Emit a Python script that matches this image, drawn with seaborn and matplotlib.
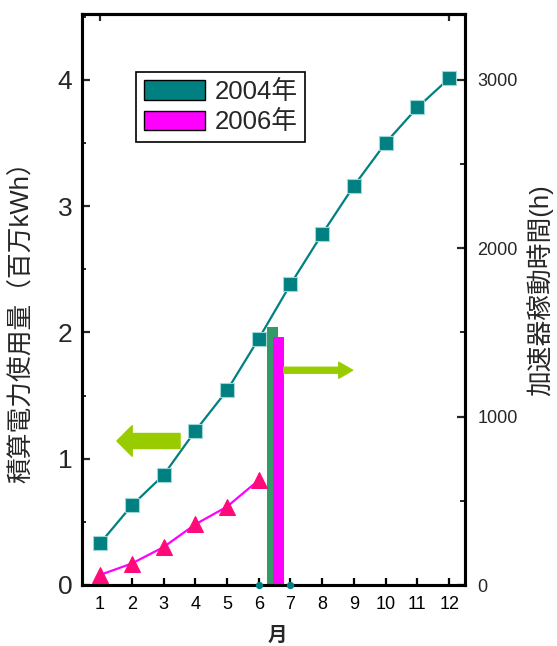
import matplotlib
matplotlib.use('Agg')
import matplotlib.pyplot as plt
import seaborn as sns
import pandas as pd
from matplotlib.patches import Patch
from matplotlib.ticker import MultipleLocator

# ---- data ----
months = [1, 2, 3, 4, 5, 6, 7, 8, 9, 10, 11, 12]
kwh_2004 = [0.33, 0.63, 0.87, 1.22, 1.54, 1.95, 2.38, 2.78, 3.16, 3.50, 3.78, 4.01]
months_2006 = [1, 2, 3, 4, 5, 6]
kwh_2006 = [0.08, 0.17, 0.30, 0.48, 0.62, 0.83]
bar_pos = [6.42, 6.62]
bar_hours = [1529, 1475]
series_labels = ['2004年', '2006年']
dot_months = [6, 7]
dot_vals = [0, 0]

teal = '#008080'
bar_green = '#339966'
magenta = '#ff00ff'
tri_pink = '#ff0a7a'
lime = '#99cc00'

sns.set_style('white')
plt.rcParams['font.family'] = ['Liberation Sans', 'Noto Sans CJK JP', 'DejaVu Sans']

fig, ax = plt.subplots(figsize=(5.57, 6.46), dpi=100)
fig.subplots_adjust(left=82/557, right=465/557, top=1-14/646, bottom=1-585/646)
ax2 = ax.twinx()
ax.set_zorder(ax2.get_zorder() + 1)
ax.patch.set_visible(False)

# bars (right axis, hours)
ax2.bar(bar_pos[0], bar_hours[0], width=0.35, color=bar_green, edgecolor='none', linewidth=0, zorder=2)
ax2.bar(bar_pos[1], bar_hours[1], width=0.35, color=magenta, edgecolor='none', linewidth=0, zorder=3)

df04 = pd.DataFrame({'month': months, 'kwh': kwh_2004})
df06 = pd.DataFrame({'month': months_2006, 'kwh': kwh_2006})
sns.lineplot(data=df04, x='month', y='kwh', ax=ax, color=teal, lw=1.6,
             marker='s', markersize=9.5, markeredgecolor='#9fd6d6', markeredgewidth=0.8)
sns.lineplot(data=df06, x='month', y='kwh', ax=ax, color=magenta, lw=1.6,
             marker='^', markersize=11, markerfacecolor=tri_pink, markeredgecolor=tri_pink)
ax.scatter(dot_months, dot_vals, s=18, color=teal, zorder=5, clip_on=False)

# arrows
ax.annotate('', xy=(1.53, 1.14), xytext=(3.52, 1.14),
            arrowprops=dict(arrowstyle='simple,head_length=1.1,head_width=2.2,tail_width=1.08',
                            color=lime, shrinkA=0, shrinkB=0, mutation_scale=10))
ax.annotate('', xy=(8.96, 1.70), xytext=(6.79, 1.70),
            arrowprops=dict(arrowstyle='simple,head_length=1.0,head_width=1.15,tail_width=0.43',
                            color=lime, shrinkA=0, shrinkB=0, mutation_scale=10))

# axes limits/ticks
ax.set_xlim(0.43, 12.5)
ax.set_ylim(0, 4.52)
ax2.set_ylim(0, 4.52 * 750)
ax.set_xticks(months)
ax.set_yticks([0, 1, 2, 3, 4])
ax.yaxis.set_minor_locator(MultipleLocator(0.5))
ax2.set_yticks([0, 1000, 2000, 3000])
ax2.yaxis.set_minor_locator(MultipleLocator(500))
ax.set_xlabel('')
ax.set_ylabel('')

ax.tick_params(axis='x', direction='in', length=5, width=1.6, labelsize=13, pad=8,
               bottom=True, top=False, colors='black')
ax.tick_params(axis='y', which='major', direction='in', length=5.5, width=1.6,
               labelsize=19, pad=7, left=True, right=False)
ax.tick_params(axis='y', which='minor', direction='in', length=3, width=1.4, left=True, right=False)
ax2.tick_params(axis='y', which='major', direction='in', length=5.5, width=1.6,
                labelsize=13, pad=9, right=True, left=False)
ax2.tick_params(axis='y', which='minor', direction='in', length=3.5, width=1.4, right=True, left=False)

secx = ax.secondary_xaxis('top')
secx.set_xticks([1, 12])
secx.tick_params(direction='in', length=5, width=1.6, labeltop=False)
secx.spines['top'].set_linewidth(2.2)

for a in (ax, ax2):
    for s in a.spines.values():
        s.set_visible(True)
        s.set_color('black')
        s.set_linewidth(2.2)

# legend
handles = [Patch(facecolor=teal, edgecolor='black', linewidth=1),
           Patch(facecolor=magenta, edgecolor='black', linewidth=1)]
leg = ax.legend(handles, series_labels, loc='upper left', bbox_to_anchor=(0.141, 0.898),
                borderaxespad=0, fontsize=18.5, frameon=True, fancybox=False,
                edgecolor='black', framealpha=1, handlelength=2.4, handleheight=0.8,
                borderpad=0.3, labelspacing=0.25, handletextpad=0.35)
leg.get_frame().set_linewidth(1.2)

# axis titles
fig.text(22/557, 1-316/646, '積算電力使用量（百万kWh）', rotation=90, ha='center', va='center', fontsize=18.5)
fig.text(540/557, 1-290/646, '加速器稼動時間(h)', rotation=90, ha='center', va='center', fontsize=18.5)
fig.text(277/557, 1-636/646, '月', ha='center', va='center', fontsize=14, fontweight='bold')

fig.savefig('out.png', dpi=100)
